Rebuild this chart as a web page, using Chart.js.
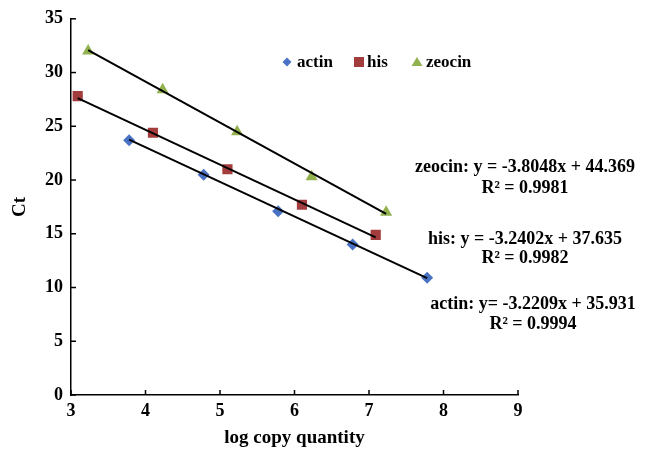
<!DOCTYPE html>
<html>
<head>
<meta charset="utf-8">
<script src="https://cdn.jsdelivr.net/npm/chart.js@4.4.1/dist/chart.umd.min.js"></script>
<style>
  html, body { margin: 0; padding: 0; background: #fff; }
  #wrap { width: 650px; height: 453px; }
</style>
</head>
<body>
<div id="wrap"><canvas id="qpcrChart" width="650" height="453"></canvas></div>
<script>
// data
var seriesNames = ['actin', 'his', 'zeocin'];
var actinX = [3.78, 4.78, 5.78, 6.78, 7.78];
var actinY = [23.7, 20.5, 17.1, 14.0, 10.9];
var hisX = [3.09, 4.10, 5.10, 6.10, 7.09];
var hisY = [27.8, 24.4, 21.0, 17.7, 14.9];
var zeocinX = [3.23, 4.23, 5.23, 6.23, 7.23];
var zeocinY = [32.0, 28.4, 24.5, 20.3, 17.0];
// trendline coefficients as printed on the chart
var slopes = [-3.2209, -3.2402, -3.8048];
var intercepts = [35.931, 37.635, 44.369];
var eqLabels = [
    ['actin: y= -3.2209x + 35.931', 'R\u00b2 = 0.9994'],
    ['his: y = -3.2402x + 37.635', 'R\u00b2 = 0.9982'],
    ['zeocin: y = -3.8048x + 44.369', 'R\u00b2 = 0.9981']
];
var xTicks = [3, 4, 5, 6, 7, 8, 9];
var yTicks = [0, 5, 10, 15, 20, 25, 30, 35];

var colors = ['#4a72c4', '#a33c3c', '#92b24f'];
var shapes = ['rectRot', 'rect', 'triangle'];
var serif = '"Liberation Serif", "Times New Roman", serif';

function pts(xs, ys) {
    return xs.map(function(x, i) { return { x: x, y: ys[i] } })
}
function trend(xs, k) {
    var a = xs[0], b = xs[xs.length - 1];
    return [{ x: a, y: slopes[k] * a + intercepts[k] }, { x: b, y: slopes[k] * b + intercepts[k] }]
}

var allX = [actinX, hisX, zeocinX];
var allY = [actinY, hisY, zeocinY];
var radii = [6, 7.2, 7];
var datasets = [];
seriesNames.forEach(function(name, k) {
    datasets.push({
        label: name,
        data: pts(allX[k], allY[k]),
        showLine: false,
        pointStyle: shapes[k],
        pointRadius: radii[k],
        backgroundColor: colors[k],
        borderColor: colors[k],
        borderWidth: 0,
        order: 2
    });
    datasets.push({
        label: name + ' trend',
        data: trend(allX[k], k),
        showLine: true,
        borderColor: '#000',
        borderWidth: 2,
        pointRadius: 0,
        fill: false,
        order: 1
    });
});

// inward tick marks, legend and equations
var decorPlugin = {
    id: 'decor',
    afterDraw: function(chart) {
        var ctx = chart.ctx, xs = chart.scales.x, ys = chart.scales.y;
        var area = chart.chartArea;
        ctx.save();
        ctx.strokeStyle = '#000';
        ctx.lineWidth = 1.5;
        xTicks.forEach(function(v) {
            var p = xs.getPixelForValue(v);
            ctx.beginPath(); ctx.moveTo(p, area.bottom); ctx.lineTo(p, area.bottom - 5); ctx.stroke();
        });
        yTicks.forEach(function(v) {
            var p = ys.getPixelForValue(v);
            ctx.beginPath(); ctx.moveTo(area.left, p); ctx.lineTo(area.left + 5, p); ctx.stroke();
        });

        // legend
        var legendPos = [[287, 297], [359, 367], [417, 426]];
        ctx.font = 'bold 17px ' + serif;
        ctx.textBaseline = 'middle';
        ctx.textAlign = 'left';
        var ly = 62;
        seriesNames.forEach(function(name, k) {
            var cx = legendPos[k][0];
            ctx.fillStyle = colors[k];
            ctx.beginPath();
            if (k == 0) {
                ctx.moveTo(cx, ly - 4.5); ctx.lineTo(cx + 4.5, ly); ctx.lineTo(cx, ly + 4.5); ctx.lineTo(cx - 4.5, ly);
            } else if (k == 1) {
                ctx.rect(cx - 5, ly - 5, 10, 10);
            } else {
                ctx.moveTo(cx, ly - 5); ctx.lineTo(cx + 5.5, ly + 4); ctx.lineTo(cx - 5.5, ly + 4);
            }
            ctx.closePath();
            ctx.fill();
            ctx.fillStyle = '#000';
            ctx.fillText(name, legendPos[k][1], ly + 1);
        });

        // trendline equations
        var eqPos = [[533, 304, 324], [525, 239, 258], [525, 167, 188]];
        ctx.textAlign = 'center';
        ctx.font = 'bold 18px ' + serif;
        eqLabels.forEach(function(lines, k) {
            ctx.fillText(lines[0], eqPos[k][0], eqPos[k][1]);
            ctx.fillText(lines[1], eqPos[k][0], eqPos[k][2]);
        });
        ctx.restore();
    }
};

var tickFont = { family: serif, size: 18, weight: 'bold' };

new Chart(document.getElementById('qpcrChart').getContext('2d'), {
    type: 'scatter',
    data: { datasets: datasets },
    plugins: [decorPlugin],
    options: {
        responsive: false,
        animation: false,
        layout: { padding: { top: 18, right: 132, left: 0, bottom: 0 } },
        plugins: { legend: { display: false }, tooltip: { enabled: false } },
        scales: {
            x: {
                type: 'linear',
                min: 3, max: 9,
                afterBuildTicks: function(s) { s.ticks = xTicks.map(function(v) { return { value: v } }) },
                afterFit: function(s) { s.height = 58 },
                grid: { display: false, drawTicks: false },
                border: { display: true, color: '#000', width: 1.5 },
                ticks: { color: '#000', font: tickFont, padding: 6, maxRotation: 0 },
                title: { display: true, text: 'log copy quantity', color: '#000', font: { family: serif, size: 19, weight: 'bold' }, padding: { top: 4 } }
            },
            y: {
                type: 'linear',
                min: 0, max: 35,
                afterBuildTicks: function(s) { s.ticks = yTicks.map(function(v) { return { value: v } }) },
                afterFit: function(s) { s.width = 71 },
                grid: { display: false, drawTicks: false },
                border: { display: true, color: '#000', width: 1.5 },
                ticks: { color: '#000', font: tickFont, padding: 8 },
                title: { display: true, text: 'Ct', color: '#000', font: { family: serif, size: 19, weight: 'bold' }, padding: { top: 9, bottom: 0 } }
            }
        }
    }
});
</script>
</body>
</html>
